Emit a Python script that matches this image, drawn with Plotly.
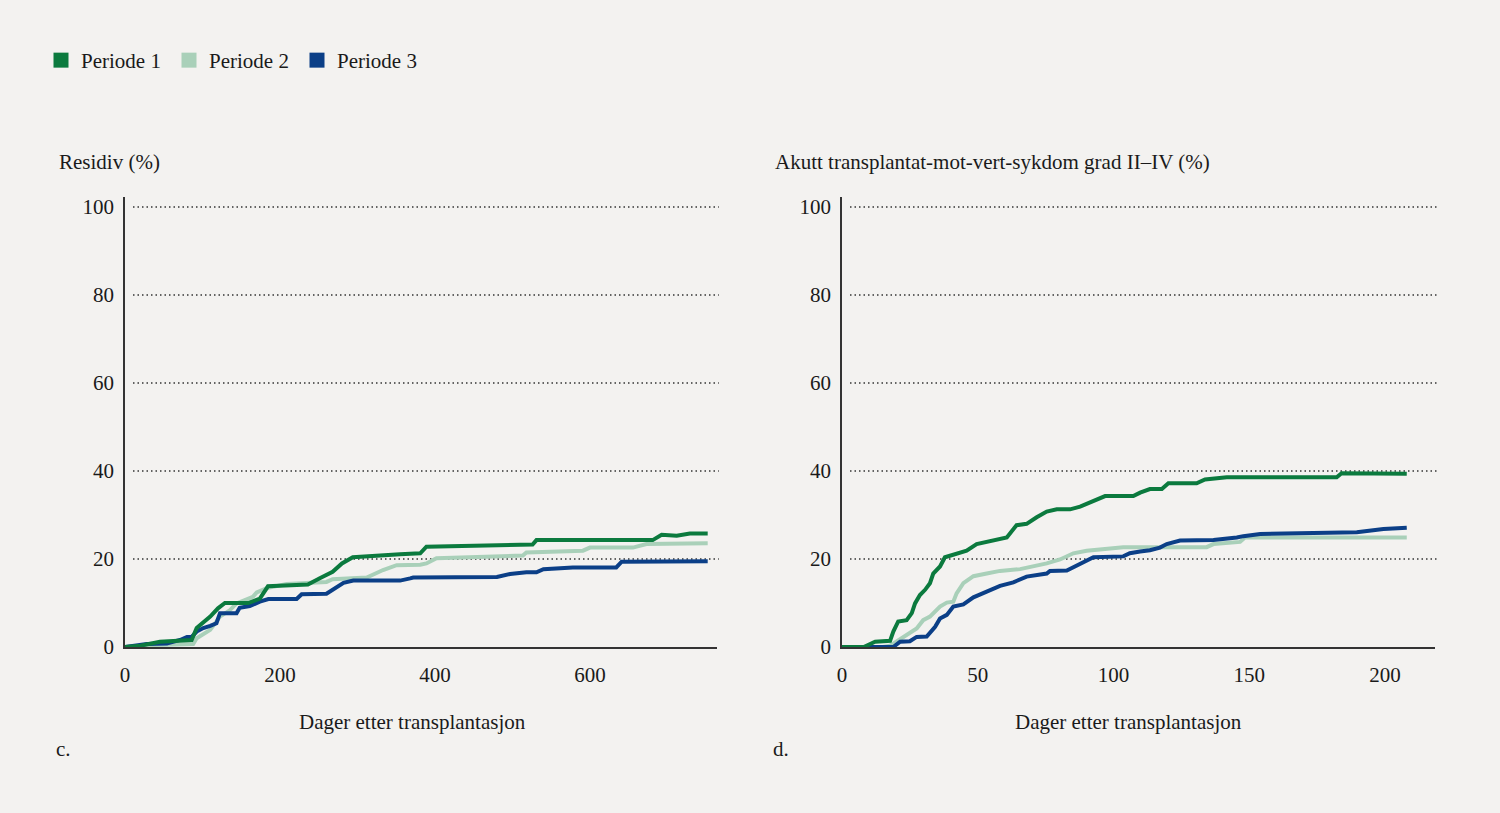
import plotly.graph_objects as go

# ---------------- data ----------------
periods = ["Periode 1", "Periode 2", "Periode 3"]
colors = ["#0b7a3e", "#a9d0b9", "#0b3f87"]

# Panel c: Residiv (%) vs days
res_p1_x = [0, 20, 45, 86, 92.5, 110, 120, 129, 159, 174, 184.5, 236, 252, 268, 280, 294, 355, 381, 389, 526, 531, 681, 692.5, 712, 729, 752]
res_p1_y = [0, 0.3, 1.2, 1.6, 4.3, 6.9, 8.8, 10, 10, 11, 13.8, 14.2, 15.7, 17.1, 19, 20.4, 21.1, 21.3, 22.8, 23.3, 24.3, 24.3, 25.5, 25.3, 25.8, 25.8]

res_p2_x = [0, 30, 88, 92.5, 110, 122.6, 135.5, 144, 165, 170, 183, 208.6, 260, 268, 312, 333, 350.6, 381, 389, 402, 513.5, 518, 591, 600, 655.5, 673, 752]
res_p2_y = [0, 0.4, 0.7, 2.0, 3.9, 6.9, 8.4, 9.9, 11.4, 12.4, 13.4, 14.3, 14.8, 15.4, 15.8, 17.5, 18.6, 18.7, 19.0, 20.2, 20.8, 21.5, 21.9, 22.6, 22.6, 23.4, 23.6]

res_p3_x = [0, 28, 54, 71, 80, 86, 92.5, 101, 110, 118, 122.6, 144, 148, 161, 174, 185, 221.5, 228, 260, 273, 282, 294.6, 355, 368, 372, 480, 497, 518, 531, 540, 578, 634, 641, 752]
res_p3_y = [0, 0.7, 0.8, 1.6, 2.3, 2.3, 3.5, 4.3, 4.8, 5.4, 7.7, 7.7, 8.9, 9.3, 10.3, 10.9, 10.9, 12.0, 12.1, 13.6, 14.6, 15.1, 15.1, 15.6, 15.8, 15.9, 16.6, 17.0, 17.0, 17.7, 18.1, 18.1, 19.4, 19.5]

# Panel d: acute GvHD grade II-IV (%) vs days
gvh_p1_x = [0, 8, 12.2, 17.7, 18.9, 20.7, 23.8, 25.7, 26.9, 28.7, 30.6, 32.4, 33.6, 36.1, 37.9, 42.2, 45.9, 49.6, 53.3, 57, 60.7, 64.3, 68, 71.7, 75.4, 79.1, 84, 87.7, 91.3, 93.8, 96.9, 107.3, 109.8, 113.4, 117.8, 120.2, 130.6, 133.7, 141.7, 182.2, 184, 208]
gvh_p1_y = [0, 0, 1.2, 1.4, 3.5, 5.8, 6.1, 7.7, 9.9, 11.8, 13.0, 14.5, 16.7, 18.3, 20.4, 21.3, 21.9, 23.4, 23.9, 24.6, 24.9, 27.7, 28.0, 29.5, 30.8, 31.3, 31.3, 31.9, 32.8, 33.4, 34.3, 34.3, 35.1, 35.9, 35.9, 37.2, 37.2, 38.1, 38.6, 38.6, 39.5, 39.4]

gvh_p2_x = [0, 15, 17.7, 20, 22.6, 25, 27.5, 29.9, 32.4, 36.1, 38.6, 41, 42.2, 44.7, 48.4, 53.3, 58.2, 65.6, 70.5, 75.4, 80.3, 85.2, 90.1, 97.5, 103.6, 134.3, 136.8, 146.6, 148.4, 208]
gvh_p2_y = [0, 0, 0.3, 1.2, 2.3, 3.1, 4.2, 6.1, 6.9, 9.2, 10.1, 10.3, 12.2, 14.5, 16.1, 16.7, 17.3, 17.7, 18.3, 19.0, 19.9, 21.3, 21.9, 22.4, 22.7, 22.7, 23.4, 23.9, 24.9, 24.9]

gvh_p3_x = [0, 18.9, 21.4, 25, 27.5, 31.2, 34.3, 36.1, 38.6, 41, 44.7, 48.4, 53.3, 58.2, 63.1, 68, 75.4, 76.6, 82.8, 87.7, 92.6, 103.6, 106, 109.8, 113.4, 117.1, 119.6, 124.5, 136.8, 145.4, 147.8, 154, 171.2, 189.6, 199.4, 208]
gvh_p3_y = [0, 0, 1.2, 1.3, 2.3, 2.4, 4.6, 6.5, 7.3, 9.2, 9.7, 11.3, 12.6, 13.9, 14.7, 16.0, 16.7, 17.3, 17.4, 18.9, 20.4, 20.6, 21.3, 21.7, 22.0, 22.6, 23.4, 24.2, 24.3, 24.9, 25.2, 25.7, 26.0, 26.1, 26.8, 27.1]

y_ticks = [0, 20, 40, 60, 80, 100]
res_x_ticks = [0, 200, 400, 600]
gvh_x_ticks = [0, 50, 100, 150, 200]

left_title = "Residiv (%)"
right_title = "Akutt transplantat-mot-vert-sykdom grad II–IV (%)"
x_title = "Dager etter transplantasjon"

# ---------------- figure ----------------
FONT = "Liberation Serif"
FS = 21
TXT = "#1a1a1a"
BG = "#f3f2f0"
W, H = 1500, 813

fig = go.Figure()

series = [
    ("x", "y", [(res_p1_x, res_p1_y), (res_p2_x, res_p2_y), (res_p3_x, res_p3_y)]),
    ("x2", "y2", [(gvh_p1_x, gvh_p1_y), (gvh_p2_x, gvh_p2_y), (gvh_p3_x, gvh_p3_y)]),
]
for xa, ya, data in series:
    for i in [1, 2, 0]:
        xs, ys = data[i]
        fig.add_trace(go.Scatter(x=xs, y=ys, mode="lines", xaxis=xa, yaxis=ya,
                                 line=dict(color=colors[i], width=4),
                                 showlegend=False, hoverinfo="skip"))

# legend entries (square swatches)
for name, c in zip(periods, colors):
    fig.add_trace(go.Scatter(x=[None], y=[None], mode="markers", name=name,
                             marker=dict(symbol="square", size=15, color=c),
                             xaxis="x", yaxis="y"))

y_dom = [1 - 647 / H, 1 - 197 / H]
xl_dom = [125 / W, 717 / W]
xr_dom = [842 / W, 1435 / W]

axis_common = dict(showgrid=False, zeroline=False, showline=True, linecolor="#333333",
                   linewidth=1.5, ticks="", automargin=False,
                   tickfont=dict(family=FONT, size=FS, color=TXT))

fig.update_layout(
    width=W, height=H, autosize=False,
    paper_bgcolor=BG, plot_bgcolor=BG,
    margin=dict(l=0, r=0, t=0, b=0, autoexpand=False),
    font=dict(family=FONT, color=TXT),
    xaxis=dict(domain=xl_dom, range=[0, 764], tickvals=res_x_ticks, anchor="y",
               ticklabelstandoff=8, **axis_common),
    yaxis=dict(domain=y_dom, range=[0, 102.3], tickvals=y_ticks, anchor="x",
               ticklabelstandoff=5, **axis_common),
    xaxis2=dict(domain=xr_dom, range=[0, 218.4], tickvals=gvh_x_ticks, anchor="y2",
                ticklabelstandoff=8, **axis_common),
    yaxis2=dict(domain=y_dom, range=[0, 102.3], tickvals=y_ticks, anchor="x2",
                ticklabelstandoff=5, **axis_common),
    legend=dict(orientation="h", x=41 / W, y=1 - 40 / H, xanchor="left", yanchor="top",
                font=dict(family=FONT, size=FS, color=TXT), bgcolor="rgba(0,0,0,0)",
                entrywidth=83, entrywidthmode="pixels",
                itemclick=False, itemdoubleclick=False),
)

# dotted gridlines
shapes = []
for xa, ya in [("x", "y"), ("x2", "y2")]:
    for v in y_ticks[1:]:
        shapes.append(dict(type="line", xref=f"{xa} domain", yref=ya, x0=0.0135, x1=1.003,
                           y0=v, y1=v, layer="below",
                           line=dict(color="#333333", width=1.5, dash="1.5px,3px")))
fig.update_layout(shapes=shapes)

ann = [
    dict(text=left_title, x=57 / W, y=1 - 162 / H, xanchor="left", yanchor="middle"),
    dict(text=right_title, x=773 / W, y=1 - 162 / H, xanchor="left", yanchor="middle"),
    dict(text=x_title, x=412 / W, y=1 - 722 / H, xanchor="center", yanchor="middle"),
    dict(text=x_title, x=1128 / W, y=1 - 722 / H, xanchor="center", yanchor="middle"),
    dict(text="c.", x=54 / W, y=1 - 749 / H, xanchor="left", yanchor="middle"),
    dict(text="d.", x=771 / W, y=1 - 749 / H, xanchor="left", yanchor="middle"),
]
for a in ann:
    fig.add_annotation(xref="paper", yref="paper", showarrow=False,
                       font=dict(family=FONT, size=FS, color=TXT), **a)

fig.write_html("out.html")
